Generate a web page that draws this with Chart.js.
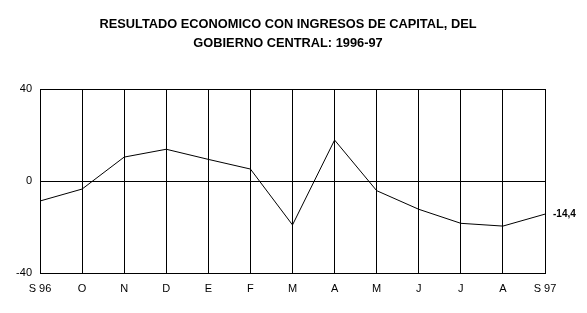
<!DOCTYPE html>
<html>
<head>
<meta charset="utf-8">
<script src="https://cdn.jsdelivr.net/npm/chart.js@4/dist/chart.umd.min.js"></script>
<style>
  html, body { margin: 0; padding: 0; background: #fff; }
  #grafico { display: block; }
</style>
</head>
<body>
<canvas id="grafico" width="587" height="313"></canvas>
<script>
// meses sep 96 - sep 97
const meses = ['S 96', 'O', 'N', 'D', 'E', 'F', 'M', 'A', 'M', 'J', 'J', 'A', 'S 97'];
// resultado economico con ingresos de capital
const resultado = [-8.7, -3.5, 10.4, 13.8, 9.4, 5.2, -19.1, 17.8, -4.2, -12.3, -18.4, -19.6, -14.4];
const ticksY = [-40, 0, 40];
const titulo = ['RESULTADO ECONOMICO CON INGRESOS DE CAPITAL, DEL', 'GOBIERNO CENTRAL: 1996-97'];

const fuente = "'Liberation Sans', Arial, sans-serif";

// titulo (un poco estrecho, como el original)
const tituloEstrecho = {
    id: 'tituloEstrecho',
    afterDraw(chart) {
        const ctx = chart.ctx;
        const cx = 288;
        ctx.save();
        ctx.font = 'bold 13px ' + fuente;
        ctx.fillStyle = '#000';
        ctx.textAlign = 'center';
        ctx.textBaseline = 'middle';
        titulo.forEach((linea, i) => {
            ctx.save();
            ctx.translate(cx, 24 + i * 19);
            ctx.scale(0.985, 1);
            ctx.fillText(linea, 0, 0);
            ctx.restore();
        });
        ctx.restore();
    }
};

// etiqueta con el ultimo valor, a la derecha del punto final
const ultimoValor = {
    id: 'ultimoValor',
    afterDatasetsDraw(chart) {
        const meta = chart.getDatasetMeta(0);
        const p = meta.data[meta.data.length - 1];
        const v = resultado[resultado.length - 1];
        const ctx = chart.ctx;
        ctx.save();
        ctx.font = 'bold 10px ' + fuente;
        ctx.fillStyle = '#000';
        ctx.textAlign = 'left';
        ctx.textBaseline = 'middle';
        ctx.fillText(v.toFixed(1).replace('.', ','), p.x + 8, p.y);
        ctx.restore();
    }
};

const ctx = document.getElementById('grafico').getContext('2d');

const myChart = new Chart(ctx, {
    type: 'line',
    data: {
        labels: meses,
        datasets: [{
            data: resultado,
            borderColor: '#000',
            borderWidth: 1,
            pointRadius: 0,
            tension: 0,
            fill: false
        }]
    },
    options: {
        responsive: false,
        devicePixelRatio: 1,
        animation: false,
        layout: { padding: { left: 0, right: 42, top: 89, bottom: 0 } },
        plugins: {
            legend: { display: false },
            tooltip: { enabled: false },
            title: { display: false }
        },
        scales: {
            x: {
                offset: false,
                grid: { color: '#000', lineWidth: 1, drawTicks: false },
                border: { color: '#000', width: 1 },
                ticks: {
                    color: '#000',
                    font: { family: fuente, size: 11 },
                    maxRotation: 0,
                    autoSkip: false,
                    padding: 9
                },
                afterFit(scale) { scale.height = 40; }
            },
            y: {
                min: -40,
                max: 40,
                afterBuildTicks(scale) { scale.ticks = ticksY.map(v => ({ value: v })); },
                grid: { color: '#000', lineWidth: 1, drawTicks: false },
                border: { color: '#000', width: 1 },
                ticks: {
                    color: '#000',
                    font: { family: fuente, size: 11 },
                    padding: 8
                },
                afterFit(scale) { scale.width = 40; }
            }
        }
    },
    plugins: [ultimoValor, tituloEstrecho]
});
</script>
</body>
</html>
